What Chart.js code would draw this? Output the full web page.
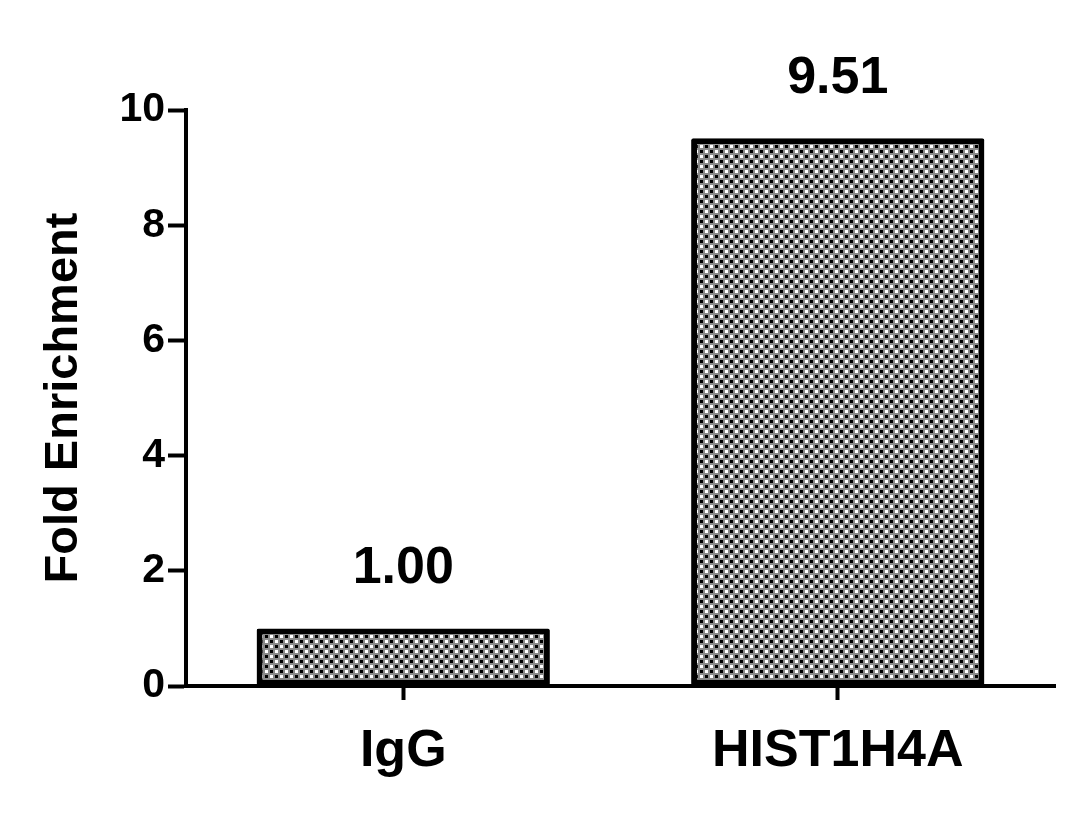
<!DOCTYPE html>
<html>
<head>
<meta charset="utf-8">
<script src="https://cdn.jsdelivr.net/npm/chart.js@4"></script>
<style>
  html, body { margin: 0; padding: 0; background: #fff; }
  #wrap { width: 1080px; height: 839px; }
</style>
</head>
<body>
<div id="wrap"><canvas id="enrichment-chart" width="1080" height="839"></canvas></div>
<script>
var categories = ['IgG', 'HIST1H4A'];
var foldValues = [1.00, 9.51];
var valueLabels = ['1.00', '9.51'];
var yTicks = [0, 2, 4, 6, 8, 10];

// checkered fill like the GraphPad bar pattern
function makePattern() {
  var c = document.createElement('canvas');
  c.width = 10; c.height = 10;
  var g = c.getContext('2d');
  g.fillStyle = '#8a8a8a';
  g.fillRect(0, 0, 10, 10);
  g.fillStyle = '#000';
  g.fillRect(0, 0, 3, 3);
  g.fillRect(5, 5, 3, 3);
  g.fillStyle = '#fff';
  g.fillRect(5, 0, 3, 3);
  g.fillRect(0, 5, 3, 3);
  return g.createPattern(c, 'repeat');
}

var valueLabelPlugin = {
  id: 'valueLabels',
  afterDatasetsDraw: function(chart) {
    var ctx = chart.ctx;
    var meta = chart.getDatasetMeta(0);
    ctx.save();
    ctx.font = 'bold 52px "Liberation Sans", Arial, sans-serif';
    ctx.fillStyle = '#000';
    ctx.textAlign = 'center';
    ctx.textBaseline = 'alphabetic';
    meta.data.forEach(function(bar, i) {
      ctx.fillText(valueLabels[i], bar.x, bar.y - 45);
    });
    ctx.restore();
  }
};

var ctx = document.getElementById('enrichment-chart').getContext('2d');
new Chart(ctx, {
  type: 'bar',
  data: {
    labels: categories,
    datasets: [{
      data: foldValues,
      backgroundColor: makePattern(),
      borderColor: '#000',
      borderWidth: 6,
      borderRadius: 2,
      borderSkipped: false,
      barPercentage: 0.675,
      categoryPercentage: 1.0
    }]
  },
  plugins: [valueLabelPlugin],
  options: {
    responsive: false,
    animation: false,
    devicePixelRatio: 1,
    layout: { padding: { left: 18, right: 25, top: 110, bottom: 33 } },
    plugins: {
      legend: { display: false },
      tooltip: { enabled: false }
    },
    scales: {
      x: {
        afterFit: function(scale) { scale.height = 120; },
        border: { display: true, color: '#000', width: 4 },
        grid: {
          offset: false,
          drawOnChartArea: false,
          drawTicks: true,
          tickLength: 14,
          tickWidth: 4,
          tickColor: '#000'
        },
        ticks: {
          color: '#000',
          padding: 20,
          font: { family: '"Liberation Sans", Arial, sans-serif', weight: 'bold', size: 52 }
        }
      },
      y: {
        min: 0,
        max: 10,
        afterFit: function(scale) { scale.width = 168; },
        afterBuildTicks: function(scale) {
          scale.ticks = yTicks.map(function(v) { return { value: v }; });
        },
        border: { display: true, color: '#000', width: 4 },
        grid: {
          drawOnChartArea: false,
          drawTicks: true,
          tickLength: 18,
          tickWidth: 4,
          tickColor: '#000'
        },
        ticks: {
          color: '#000',
          padding: 3,
          font: { family: '"Liberation Sans", Arial, sans-serif', weight: 'bold', size: 41 }
        },
        title: {
          display: true,
          text: 'Fold Enrichment',
          color: '#000',
          padding: { top: 18, bottom: 0 },
          font: { family: '"Liberation Sans", Arial, sans-serif', weight: 'bold', size: 47 }
        }
      }
    }
  }
});
</script>
</body>
</html>
